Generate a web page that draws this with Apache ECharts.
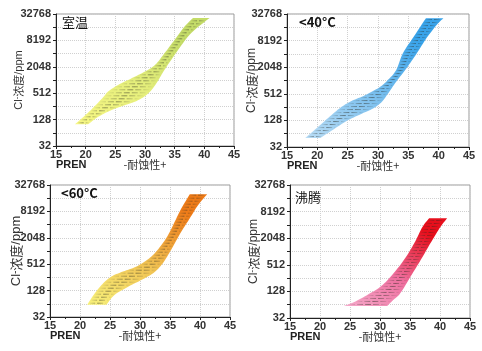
<!DOCTYPE html>
<html>
<head>
<meta charset="utf-8">
<script src="https://cdn.jsdelivr.net/npm/echarts@6/dist/echarts.min.js"></script>
<style>
html, body { margin: 0; padding: 0; background: #fff; }
#main { width: 482px; height: 351px; }
</style>
</head>
<body>
<div id="main"></div>
<script>
// band edges, [PREN, Cl- ppm]
var roomLeft = [[18.2, 100], [20.6, 195], [22.8, 395], [23.6, 530], [24.4, 645], [25.8, 838], [27.8, 1130], [30.0, 1600], [31.7, 2270], [33.3, 4200], [35.0, 8500], [36.7, 17200], [38.1, 26600]];
var roomRight = [[20.4, 100], [22.2, 150], [24.4, 212], [26.7, 276], [28.6, 342], [30.0, 440], [31.1, 605], [32.2, 990], [33.3, 1750], [35.6, 5000], [37.8, 12100], [40.9, 26600]];

var t40Left = [[18.0, 51], [20.1, 91], [22.3, 168], [24.0, 260], [25.7, 355], [27.9, 478], [30.2, 714], [31.6, 1045], [33.0, 1770], [34.1, 4240], [36.1, 11100], [37.9, 26400]];
var t40Right = [[20.5, 51], [22.9, 84], [25.1, 130], [27.4, 184], [29.0, 231], [30.5, 322], [31.6, 505], [33.0, 962], [34.7, 1940], [36.4, 4240], [38.0, 9340], [39.7, 18700], [40.8, 26400]];

var t60Left = [[21.2, 61], [22.5, 113], [23.9, 190], [25.3, 271], [26.9, 338], [29.2, 440], [30.8, 592], [32.2, 838], [33.6, 1420], [34.7, 2400], [35.8, 4800], [36.9, 9670], [38.3, 20200]];
var t60Right = [[24.4, 61], [25.8, 103], [28.1, 159], [30.3, 226], [32.2, 320], [33.6, 495], [34.7, 838], [35.8, 1540], [36.9, 2840], [38.3, 5710], [39.7, 11500], [41.2, 20200]];

var boilLeft = [[24.0, 60], [25.9, 76], [28.4, 117], [30.1, 165], [31.8, 278], [34.0, 662], [35.7, 1570], [37.1, 3740], [38.2, 5790]];
var boilRight = [[31.2, 60], [32.3, 84], [33.4, 117], [35.1, 278], [36.8, 662], [38.4, 1570], [40.1, 3740], [41.2, 5790]];

var panelNames = ['室温', '<40°C', '<60°C', '沸腾'];
var yTickExp = [5, 7, 9, 11, 13, 15];   // 32 ... 32768

var panels = [
  { left: roomLeft, right: roomRight, colors: ['#f7f784', '#e6ef7c', '#c4dc68'], grid: { left: 56, top: 14, width: 178, height: 132 },
    title: { bold: false, dx: 6, top: 16 }, nameGap: 32, nameSize: 11 },
  { left: t40Left, right: t40Right, colors: ['#b8dcf5', '#7cc0ee', '#38a3ea'], grid: { left: 287, top: 14, width: 182, height: 133 },
    title: { bold: true, dx: 12, top: 16 }, nameGap: 29, nameSize: 12 },
  { left: t60Left, right: t60Right, colors: ['#f8f27c', '#f1c353', '#ee7b18'], grid: { left: 50, top: 185, width: 180, height: 132 },
    title: { bold: true, dx: 11, top: 187 }, nameGap: 27, nameSize: 13 },
  { left: boilLeft, right: boilRight, colors: ['#f6aacb', '#ef6f9f', '#e70f1c'], grid: { left: 290, top: 185, width: 180, height: 133 },
    title: { bold: false, dx: 5, top: 191 }, nameGap: 30, nameSize: 12 }
];

// catmull-rom through pixel points so the band edges come out smooth
function smooth(pts) {
  var out = [], n = pts.length;
  for (var i = 0; i < n - 1; i++) {
    var p0 = pts[Math.max(i - 1, 0)], p1 = pts[i], p2 = pts[i + 1], p3 = pts[Math.min(i + 2, n - 1)];
    for (var s = 0; s < 8; s++) {
      var t = s / 8, t2 = t * t, t3 = t2 * t;
      out.push([0, 1].map(function (k) {
        return 0.5 * (2 * p1[k] + (-p0[k] + p2[k]) * t + (2 * p0[k] - 5 * p1[k] + 4 * p2[k] - p3[k]) * t2 + (-p0[k] + 3 * p1[k] - 3 * p2[k] + p3[k]) * t3);
      }));
    }
  }
  out.push(pts[n - 1]);
  return out;
}

function interpX(pts, y) {
  for (var i = 0; i < pts.length - 1; i++) {
    var a = pts[i], b = pts[i + 1];
    if ((y <= a[1] && y >= b[1]) || (y >= a[1] && y <= b[1])) {
      var t = (a[1] - y) / (a[1] - b[1] || 1);
      return a[0] + (b[0] - a[0]) * t;
    }
  }
  return pts[pts.length - 1][0];
}

function bandSeries(p, idx) {
  return {
    type: 'custom',
    xAxisIndex: idx,
    yAxisIndex: idx,
    data: [0],
    renderItem: function (params, api) {
      var L = smooth(p.left.map(function (d) { return api.coord([d[0], Math.log2(d[1])]); }));
      var R = smooth(p.right.map(function (d) { return api.coord([d[0], Math.log2(d[1])]); }));
      var poly = L.concat(R.slice().reverse());
      var children = [{
        type: 'polygon',
        shape: { points: poly },
        style: {
          fill: {
            type: 'linear', x: 0, y: 1, x2: 0.6, y2: 0,
            colorStops: [
              { offset: 0, color: p.colors[0] },
              { offset: 0.5, color: p.colors[1] },
              { offset: 1, color: p.colors[2] }
            ]
          },
          stroke: null
        }
      }];
      var yBot = L[0][1], yTop = L[L.length - 1][1];
      for (var y = yBot - 1.5; y > yTop + 0.5; y -= 3) {
        var xl = interpX(L, y), xr = interpX(R, y);
        children.push({
          type: 'line',
          shape: { x1: xl + 1, y1: y, x2: xr - 1, y2: y },
          style: {
            stroke: {
              type: 'linear', x: 0, y: 0, x2: 1, y2: 0,
              colorStops: [
                { offset: 0, color: 'rgba(40,40,30,0)' },
                { offset: 0.5, color: 'rgba(40,40,30,0.5)' },
                { offset: 1, color: 'rgba(40,40,30,0)' }
              ]
            },
            lineWidth: 1,
            lineDash: [6, 2]
          }
        });
      }
      return { type: 'group', children: children };
    }
  };
}

var grids = [], xAxes = [], yAxes = [], series = [], titles = [], graphics = [];

panels.forEach(function (p, i) {
  var g = p.grid;
  grids.push({
    left: g.left, top: g.top, width: g.width, height: g.height,
    show: true, borderColor: '#9a9a9a', borderWidth: 1, backgroundColor: '#fff'
  });
  xAxes.push({
    gridIndex: i, type: 'value', min: 15, max: 45, interval: 5,
    name: '-耐蚀性+', nameLocation: 'middle', nameGap: 13, nameMoveOverlap: false,
    nameTextStyle: { fontSize: 11, color: '#333', fontFamily: 'Noto Sans CJK SC' },
    axisLine: { lineStyle: { color: '#222', width: 1 } },
    axisTick: { show: true, length: 3, lineStyle: { color: '#222' } },
    minorTick: { show: true, splitNumber: 2, length: 2, lineStyle: { color: '#222' } },
    axisLabel: { fontSize: 11, fontWeight: 'bold', color: '#333', margin: 3, fontFamily: 'Liberation Sans' },
    splitLine: { show: true, lineStyle: { color: '#d0d0d0', type: 'dotted' } }
  });
  yAxes.push({
    gridIndex: i, type: 'value', min: 5, max: 15, interval: 1,
    name: '{n|Cl}{s|-}{c|浓度}{n|/ppm}', nameLocation: 'middle', nameGap: p.nameGap, nameMoveOverlap: false,
    nameTextStyle: {
      color: '#333',
      rich: {
        n: { fontSize: p.nameSize, fontFamily: 'Liberation Sans', color: '#333' },
        c: { fontSize: p.nameSize, fontFamily: 'Noto Sans CJK SC', color: '#333' },
        s: { fontSize: p.nameSize - 3, fontFamily: 'Liberation Sans', color: '#333', verticalAlign: 'top' }
      }
    },
    axisLine: { show: true, lineStyle: { color: '#222', width: 1 } },
    axisTick: { show: true, length: 3, lineStyle: { color: '#222' } },
    axisLabel: {
      fontSize: 11, fontWeight: 'bold', color: '#333', margin: 5, fontFamily: 'Liberation Sans',
      formatter: function (v) { return yTickExp.indexOf(v) >= 0 ? String(Math.pow(2, v)) : ''; }
    },
    splitLine: { show: true, lineStyle: { color: '#d0d0d0', type: 'dotted' } }
  });
  series.push(bandSeries(p, i));
  titles.push({
    text: panelNames[i], left: g.left + p.title.dx, top: p.title.top, padding: 0,
    textStyle: { fontSize: 13, fontWeight: p.title.bold ? 'bold' : 'normal', color: '#111', fontFamily: 'Noto Sans CJK SC' }
  });
  graphics.push({
    type: 'text', left: g.left, top: g.top + g.height + 13,
    style: { text: 'PREN', font: 'bold 11px "Liberation Sans"', fill: '#222' }
  });
});

var chart = echarts.init(document.getElementById('main'));
chart.setOption({
  animation: false,
  backgroundColor: '#fff',
  title: titles,
  grid: grids,
  xAxis: xAxes,
  yAxis: yAxes,
  series: series,
  graphic: graphics
});
</script>
</body>
</html>
